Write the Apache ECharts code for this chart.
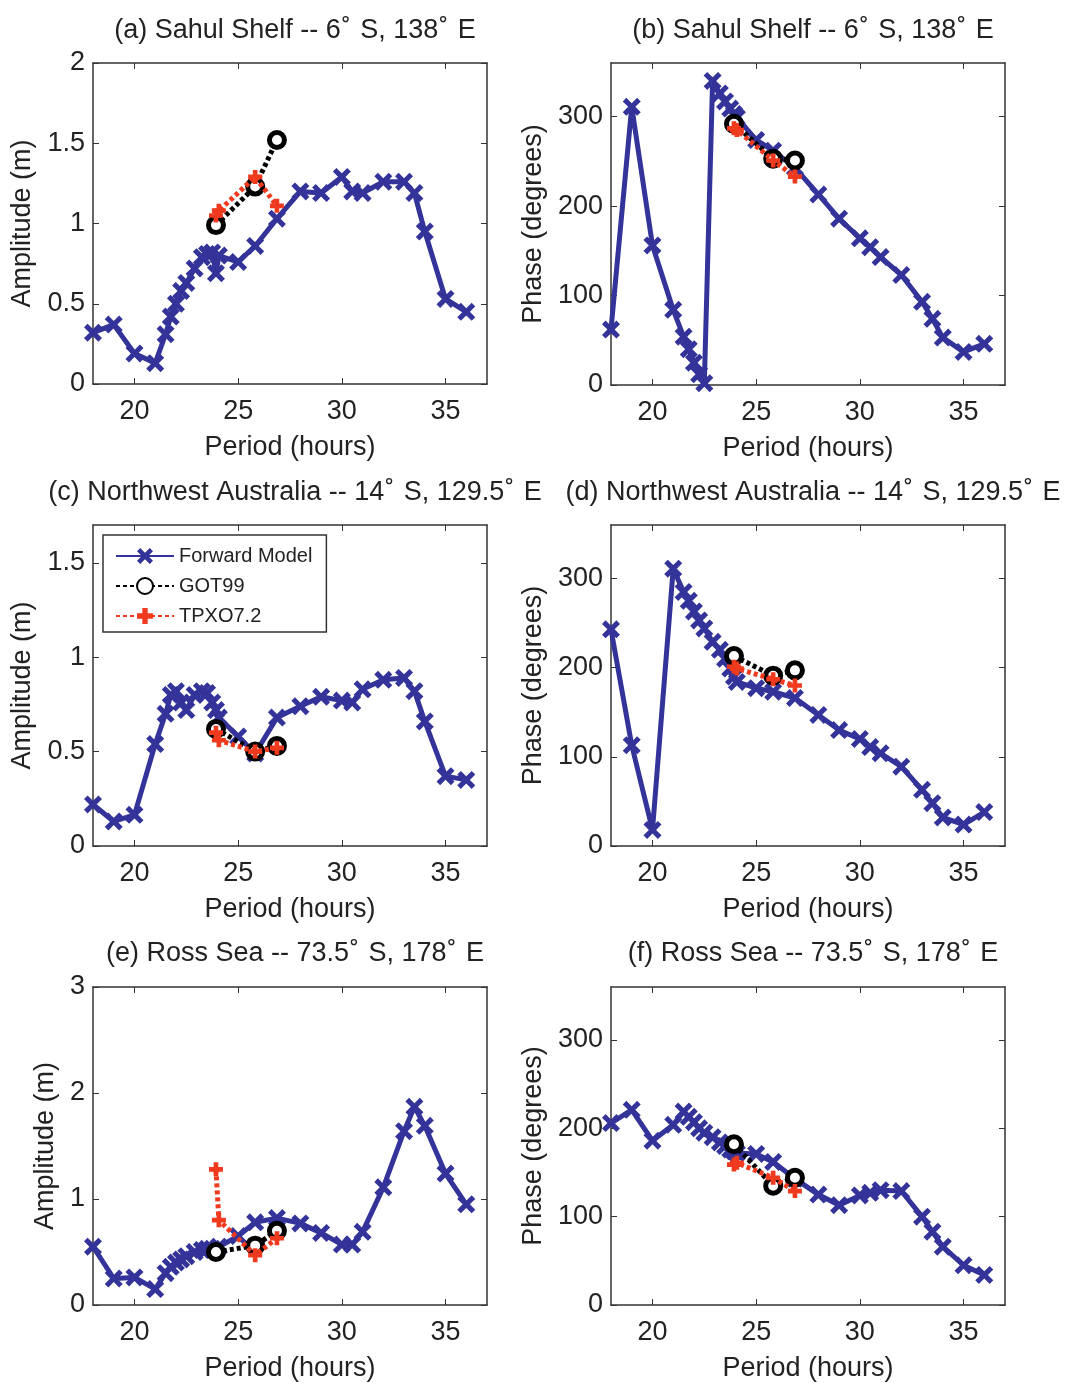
<!DOCTYPE html>
<html>
<head>
<meta charset="utf-8">
<script src="https://cdn.jsdelivr.net/npm/echarts@6/dist/echarts.min.js"></script>
<style>
html,body{margin:0;padding:0;background:#fff;}
#chart{width:1066px;height:1383px;}
</style>
</head>
<body>
<div id="chart"></div>
<script>
// ---------------- DATA ----------------
const periods = [18, 19, 20, 21, 21.5, 21.75, 22, 22.25, 22.5, 22.9, 23.25, 23.5, 23.75, 23.93, 24.07, 25, 25.82, 26.87, 28, 29, 30, 30.5, 31, 32, 33, 33.5, 34, 35, 36];
const gotPeriods = [23.93, 25.82, 26.87];
const tpxoPeriods = [23.93, 24.07, 25.82, 26.87];

// (a) Sahul Shelf amplitude
const sahulAmpFwd = [0.32, 0.37, 0.19, 0.13, 0.31, 0.42, 0.50, 0.58, 0.63, 0.72, 0.79, 0.81, 0.82, 0.69, 0.80, 0.76, 0.86, 1.03, 1.20, 1.19, 1.29, 1.20, 1.19, 1.26, 1.26, 1.19, 0.95, 0.53, 0.45];
const sahulAmpGOT = [0.99, 1.23, 1.52];
const sahulAmpTPXO = [1.05, 1.08, 1.29, 1.11];
// (b) Sahul Shelf phase
const sahulPhaFwd = [62, 311, 156, 84, 54, 40, 25, 12, 2, 340, 326, 317, 309, 303, 299, 274, 262, 243, 213, 186, 164, 154, 143, 123, 93, 74, 53, 37, 46];
const sahulPhaGOT = [292, 253, 251];
const sahulPhaTPXO = [287, 285, 251, 233];
// (c) Northwest Australia amplitude
const nwaAmpFwd = [0.22, 0.13, 0.165, 0.54, 0.70, 0.80, 0.82, 0.76, 0.72, 0.80, 0.82, 0.81, 0.76, 0.72, 0.68, 0.58, 0.49, 0.68, 0.74, 0.79, 0.77, 0.76, 0.83, 0.88, 0.89, 0.82, 0.66, 0.37, 0.35];
const nwaAmpGOT = [0.62, 0.50, 0.53];
const nwaAmpTPXO = [0.60, 0.56, 0.50, 0.52];
// (d) Northwest Australia phase
const nwaPhaFwd = [243, 113, 18, 311, 285, 275, 263, 253, 244, 229, 220, 210, 199, 190, 184, 177, 173, 166, 147, 130, 120, 111, 104, 89, 63, 48, 32, 24, 38];
const nwaPhaGOT = [213, 191, 197];
const nwaPhaTPXO = [201, 199, 187, 180];
// (e) Ross Sea amplitude
const rossAmpFwd = [0.55, 0.25, 0.26, 0.15, 0.30, 0.36, 0.40, 0.43, 0.46, 0.50, 0.52, 0.53, 0.53, 0.52, 0.55, 0.65, 0.78, 0.82, 0.77, 0.68, 0.57, 0.57, 0.69, 1.11, 1.64, 1.87, 1.69, 1.24, 0.95];
const rossAmpGOT = [0.50, 0.56, 0.70];
const rossAmpTPXO = [1.28, 0.80, 0.47, 0.63];
// (f) Ross Sea phase
const rossPhaFwd = [206, 221, 186, 204, 219, 213, 207, 200, 195, 190, 184, 180, 176, 174, 172, 171, 162, 143, 125, 113, 124, 127, 130, 129, 100, 83, 66, 45, 34];
const rossPhaGOT = [182, 135, 144];
const rossPhaTPXO = [159, 161, 144, 129];

const xTicks = [20, 25, 30, 35];
const ampTicks2 = [0, 0.5, 1, 1.5, 2];
const ampTicks17 = [0, 0.5, 1, 1.5];
const ampTicks3 = [0, 1, 2, 3];
const phaseTicks = [0, 100, 200, 300];

const titles = [
  '(a) Sahul Shelf -- 6{d|˚} S, 138{d|˚} E',
  '(b) Sahul Shelf -- 6{d|˚} S, 138{d|˚} E',
  '(c) Northwest Australia -- 14{d|˚} S, 129.5{d|˚} E',
  '(d) Northwest Australia -- 14{d|˚} S, 129.5{d|˚} E',
  '(e) Ross Sea -- 73.5{d|˚} S, 178{d|˚} E',
  '(f) Ross Sea -- 73.5{d|˚} S, 178{d|˚} E'
];
const seriesNames = ['Forward Model', 'GOT99', 'TPXO7.2'];
const yNames = ['Amplitude (m)', 'Phase (degrees)'];
const xName = 'Period (hours)';

// ---------------- LAYOUT ----------------
const panelData = [
  {fwd: sahulAmpFwd, got: sahulAmpGOT, tpxo: sahulAmpTPXO, ymax: 2, ticks: ampTicks2, yName: yNames[0]},
  {fwd: sahulPhaFwd, got: sahulPhaGOT, tpxo: sahulPhaTPXO, ymax: 360, ticks: phaseTicks, yName: yNames[1]},
  {fwd: nwaAmpFwd, got: nwaAmpGOT, tpxo: nwaAmpTPXO, ymax: 1.7, ticks: ampTicks17, yName: yNames[0]},
  {fwd: nwaPhaFwd, got: nwaPhaGOT, tpxo: nwaPhaTPXO, ymax: 360, ticks: phaseTicks, yName: yNames[1]},
  {fwd: rossAmpFwd, got: rossAmpGOT, tpxo: rossAmpTPXO, ymax: 3, ticks: ampTicks3, yName: yNames[0]},
  {fwd: rossPhaFwd, got: rossPhaGOT, tpxo: rossPhaTPXO, ymax: 360, ticks: phaseTicks, yName: yNames[1]}
];
const layout = [
  {left: 93, top: 63, width: 394, height: 321, yGap: 57, titleTop: 12},
  {left: 611, top: 63, width: 394, height: 322, yGap: 64, titleTop: 12},
  {left: 93, top: 525, width: 394, height: 321, yGap: 57, titleTop: 474},
  {left: 611, top: 525, width: 394, height: 321, yGap: 64, titleTop: 474},
  {left: 93, top: 987, width: 394, height: 320, yGap: 34, titleTop: 935},
  {left: 611, top: 987, width: 394, height: 320, yGap: 64, titleTop: 935}
];

const FONT = 'Liberation Sans, Arial, sans-serif';
const TXT = '#222';
const AX = '#333';
const BLUE = '#333399';
const RED = '#f03a1e';
const xSym = 'path://M0,4 L4,0 L10,6 L16,0 L20,4 L14,10 L20,16 L16,20 L10,14 L4,20 L0,16 L6,10 Z';
const plusSym = 'path://M6,0 L12,0 L12,6 L18,6 L18,12 L12,12 L12,18 L6,18 L6,12 L0,12 L0,6 L6,6 Z';

const zip = (xs, ys) => xs.map((x, i) => [x, ys[i]]);

const grid = [], xAxis = [], yAxis = [], series = [], title = [];
layout.forEach((L, i) => {
  const P = panelData[i];
  grid.push({left: L.left, top: L.top, width: L.width, height: L.height, show: false});
  title.push({
    text: titles[i],
    left: L.left + L.width / 2,
    top: L.titleTop,
    textAlign: 'center',
    textStyle: {
      fontFamily: FONT, fontSize: 27, fontWeight: 'normal', color: TXT,
      rich: {d: {fontFamily: FONT, fontSize: 27, color: TXT, padding: [0, 2, 0, 1]}}
    }
  });
  const common = {
    type: 'value', gridIndex: i, min: 18, max: 37,
    axisLine: {show: true, onZero: false, lineStyle: {color: AX, width: 1.5}},
    splitLine: {show: false}
  };
  xAxis.push(Object.assign({}, common, {
    position: 'bottom',
    name: xName, nameLocation: 'middle', nameGap: 50,
    nameTextStyle: {fontFamily: FONT, fontSize: 27, color: TXT},
    axisTick: {show: true, inside: true, length: 6, customValues: xTicks, lineStyle: {color: AX}},
    axisLabel: {show: true, margin: 14, customValues: xTicks, fontFamily: FONT, fontSize: 27, color: TXT}
  }));
  xAxis.push(Object.assign({}, common, {
    position: 'top',
    axisTick: {show: true, inside: true, length: 6, customValues: xTicks, lineStyle: {color: AX}},
    axisLabel: {show: false}
  }));
  const ycommon = {
    type: 'value', gridIndex: i, min: 0, max: P.ymax,
    axisLine: {show: true, onZero: false, lineStyle: {color: AX, width: 1.5}},
    splitLine: {show: false}
  };
  yAxis.push(Object.assign({}, ycommon, {
    position: 'left',
    name: P.yName, nameLocation: 'middle', nameGap: L.yGap,
    nameTextStyle: {fontFamily: FONT, fontSize: 27, color: TXT},
    axisTick: {show: true, inside: true, length: 6, customValues: P.ticks, lineStyle: {color: AX}},
    axisLabel: {show: true, margin: 8, customValues: P.ticks, fontFamily: FONT, fontSize: 27, color: TXT}
  }));
  yAxis.push(Object.assign({}, ycommon, {
    position: 'right',
    axisTick: {show: true, inside: true, length: 6, customValues: P.ticks, lineStyle: {color: AX}},
    axisLabel: {show: false}
  }));
  const xi = i * 2, yi = i * 2;
  series.push({
    name: seriesNames[0], type: 'line', xAxisIndex: xi, yAxisIndex: yi,
    data: zip(periods, P.fwd),
    symbol: xSym, symbolSize: 18, showAllSymbol: true,
    lineStyle: {color: BLUE, width: 5}, itemStyle: {color: BLUE},
    animation: false, z: 2
  });
  series.push({
    name: seriesNames[1], type: 'line', xAxisIndex: xi, yAxisIndex: yi,
    data: zip(gotPeriods, P.got),
    symbol: 'circle', symbolSize: 15, showAllSymbol: true,
    lineStyle: {color: '#000', width: 5, type: [4, 3]},
    itemStyle: {color: '#fff', borderColor: '#000', borderWidth: 5},
    animation: false, z: 3
  });
  series.push({
    name: seriesNames[2], type: 'line', xAxisIndex: xi, yAxisIndex: yi,
    data: zip(tpxoPeriods, P.tpxo),
    symbol: plusSym, symbolSize: 14, showAllSymbol: true,
    lineStyle: {color: RED, width: 5, type: [4, 3]},
    itemStyle: {color: RED},
    animation: false, z: 4
  });
});

const option = {
  backgroundColor: '#fff',
  animation: false,
  title: title,
  grid: grid,
  xAxis: xAxis,
  yAxis: yAxis,
  legend: {
    data: seriesNames,
    orient: 'vertical',
    left: 103, top: 535,
    padding: [11, 14, 6, 12],
    itemGap: 10, itemWidth: 58, itemHeight: 20,
    borderColor: '#333', borderWidth: 1.5, backgroundColor: '#fff',
    textStyle: {fontFamily: FONT, fontSize: 20, color: TXT},
    selectedMode: false
  },
  series: series
};

const chart = echarts.init(document.getElementById('chart'), null, {renderer: 'canvas'});
chart.setOption(option);
</script>
</body>
</html>
